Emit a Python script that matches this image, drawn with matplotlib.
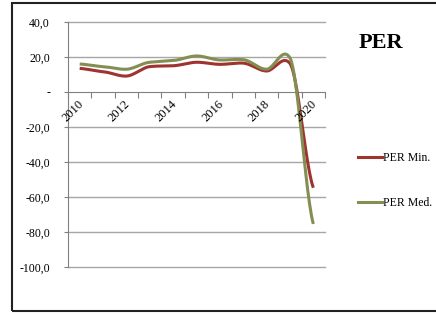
import numpy as np
import matplotlib.pyplot as plt
from matplotlib.lines import Line2D
from matplotlib.patches import Rectangle

years = [2010, 2011, 2012, 2013, 2014, 2015, 2016, 2017, 2018, 2019, 2020]
per_min = [13.5, 11.6, 9.1, 14.5, 15.0, 17.0, 15.8, 16.5, 12.0, 16.3, -54.7]
per_med = [16.0, 14.5, 13.0, 17.0, 18.0, 20.6, 18.3, 18.5, 13.0, 19.5, -75.4]
y_ticks = [40, 20, 0, -20, -40, -60, -80, -100]

plt.rcParams['font.family'] = ['Liberation Serif', 'DejaVu Serif']

RED = '#9e3330'
OLIVE = '#838f52'
GRID = '#a6a6a6'


def smooth(xs, ys, n=24, k=0.5):
    # courbe lissée (spline cardinale, tension réduite)
    x = np.asarray(xs, float)
    y = np.asarray(ys, float)
    m = np.zeros_like(y)
    m[1:-1] = (y[2:] - y[:-2]) / 2 * k
    m[0] = (y[1] - y[0]) * k
    m[-1] = (y[-1] - y[-2]) * k
    outx, outy = [], []
    t = np.linspace(0, 1, n, endpoint=False)
    h00 = 2 * t ** 3 - 3 * t ** 2 + 1
    h10 = t ** 3 - 2 * t ** 2 + t
    h01 = -2 * t ** 3 + 3 * t ** 2
    h11 = t ** 3 - t ** 2
    for i in range(len(x) - 1):
        outx.extend(x[i] + t * (x[i + 1] - x[i]))
        outy.extend(h00 * y[i] + h10 * m[i] + h01 * y[i + 1] + h11 * m[i + 1])
    outx.append(x[-1])
    outy.append(y[-1])
    return outx, outy


fig = plt.figure(figsize=(4.36, 3.15), dpi=100)
W, H = 436, 315
ax = fig.add_axes([68 / W, 1 - 267 / H, (325 - 68) / W, (267 - 22) / H])

pos = np.arange(len(years))
for vals, col in ((per_min, RED), (per_med, OLIVE)):
    sx, sy = smooth(pos, vals)
    ax.plot(sx, sy, color=col, lw=2.2, solid_capstyle='butt', zorder=3)

ax.set_xlim(-0.5, len(years) - 0.5)
ax.set_ylim(-100, 40)
ax.set_yticks(y_ticks)
ax.set_yticklabels(['-' if v == 0 else f'{v:.1f}'.replace('.', ',') for v in y_ticks],
                   fontsize=8.5)
for v in y_ticks:
    if v != 0:
        ax.axhline(v, color=GRID, lw=1, zorder=1, clip_on=False)

for s in ('top', 'right'):
    ax.spines[s].set_visible(False)
ax.spines['left'].set_color('#808080')
ax.spines['bottom'].set_color('#808080')
ax.spines['bottom'].set_position(('data', 0))
ax.tick_params(axis='y', length=3, color='#808080', pad=10)

ax.set_xticks(np.arange(-0.5, len(years), 1.0))
ax.set_xticklabels([])
ax.tick_params(axis='x', length=4, direction='out', color='#808080')
for i, yr in enumerate(years):
    if i % 2 == 0:
        ax.text(i - 0.3, -3.4, str(yr), rotation=45, ha='center', va='top',
                fontsize=9)

fig.text(381 / W, 1 - 43 / H, 'PER', fontsize=16, fontweight='bold',
         ha='center', va='center')

handles = [Line2D([], [], color=RED, lw=2.2), Line2D([], [], color=OLIVE, lw=2.2)]
fig.legend(handles, ['PER Min.', 'PER Med.'], loc='upper left',
           bbox_to_anchor=(352 / W, 1 - 146 / H), frameon=False, fontsize=8.5,
           handlelength=2.0, handletextpad=0.1, labelspacing=2.8,
           borderpad=0)

fig.add_artist(Rectangle((11.5 / W, 1 - 310.5 / H), 1.0, (308 / H),
                         transform=fig.transFigure, fill=False,
                         edgecolor='#222222', lw=1.5, clip_on=False))

fig.savefig('out.png', dpi=100)
